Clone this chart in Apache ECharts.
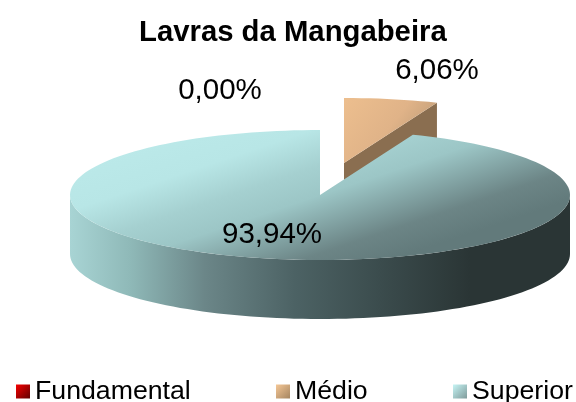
<!DOCTYPE html>
<html><head><meta charset="utf-8">
<style>html,body{margin:0;padding:0;background:#fff}#c{width:576px;height:402px}</style>
<script src="https://cdn.jsdelivr.net/npm/echarts@6/dist/echarts.min.js"></script>
</head><body><div id="c"></div>
<script>
const categories = ['Fundamental', 'Médio', 'Superior'];
const shares = [0.00, 6.06, 93.94];
const chartTitle = 'Lavras da Mangabeira';

const FONT = '"Liberation Sans", Arial, sans-serif';
const G = echarts.graphic.LinearGradient;
const lin = (x0, y0, x1, y1, stops) => new G(x0, y0, x1, y1,
  stops.map(([offset, color]) => ({offset, color})), true);
const icon = (a, b) => new G(0, 0, 1, 1, [{offset: 0, color: a}, {offset: 1, color: b}]);

const pie = {cx: 320, cy: 195, rx: 250, ry: 65, depth: 59};
const explode = [[0, 0], [24, -32], [0, 0]];
const labelAt = [[220, 91], [437, 71], [272, 235]];
const legendLeft = [16, 276, 453];
const iconColors = [
  icon('#f60000', '#600000'),
  icon('#f5c796', '#a58560'),
  icon('#c6f5f5', '#7f9a9a')
];
const topFill = [
  lin(150, 130, 400, 330, [[0, '#ff0000'], [1, '#700000']]),
  lin(350, 95, 440, 165, [[0, '#ecbe8e'], [0.45, '#e0b388'], [1, '#a88c6c']]),
  lin(150, 140, 210, 320, [[0, '#bbe9e9'], [0.22, '#b8e6e6'], [0.41, '#a5d0d0'], [0.56, '#9cc6c6'], [0.85, '#6c8586'], [1, '#627a7b']])
];
const sideFill = lin(70, 0, 570, 0, [
  [0, '#a8d4d4'], [0.12, '#8fb9b8'], [0.27, '#6b8688'], [0.45, '#4c6264'],
  [0.62, '#3b4c4d'], [0.8, '#2a3535'], [1, '#2a3535']
]);
const cutFill = '#8a6e50';

function pt(cx, cy, deg) {
  const r = deg * Math.PI / 180;
  return [cx + pie.rx * Math.sin(r), cy - pie.ry * Math.cos(r)];
}
function arc(cx, cy, from, to) {
  const out = [];
  const n = Math.max(2, Math.ceil(Math.abs(to - from) / 2));
  for (let i = 0; i <= n; i++) out.push(pt(cx, cy, from + (to - from) * i / n));
  return out;
}
function fmt(v) { return v.toFixed(2).replace('.', ',') + '%'; }

const total = shares.reduce((a, b) => a + b, 0);
const starts = shares.map((_, i) => shares.slice(0, i).reduce((a, b) => a + b, 0) / total * 360);

function renderSlice(idx) {
  return function (params, api) {
    const value = api.value(0);
    const a0 = starts[idx], a1 = a0 + value / total * 360;
    const cx = pie.cx + explode[idx][0], cy = pie.cy + explode[idx][1];
    const children = [];
    if (value > 0) {
      if (a1 < 90) {
        const e = pt(cx, cy, a1), d = pie.depth;
        children.push({type: 'polygon', shape: {points: [[cx, cy], e, [e[0], e[1] + d], [cx, cy + d]]},
          style: {fill: cutFill}});
      }
      const s = Math.max(a0, 90), t = Math.min(a1, 270);
      if (t > s) {
        const upper = arc(cx, cy, s, t);
        const lower = arc(cx, cy + pie.depth, t, s);
        children.push({type: 'polygon', shape: {points: upper.concat(lower)}, style: {fill: sideFill}});
      }
      children.push({type: 'polygon', shape: {points: [[cx, cy]].concat(arc(cx, cy, a0, a1))},
        style: {fill: topFill[idx]}});
    }
    children.push({type: 'text', z2: 10, style: {
      text: fmt(value), x: labelAt[idx][0], y: labelAt[idx][1], align: 'center', verticalAlign: 'middle',
      font: '29.5px ' + FONT, fill: '#000'
    }});
    return {type: 'group', children};
  };
}

const chart = echarts.init(document.getElementById('c'), null, {renderer: 'canvas'});
chart.setOption({
  animation: false,
  backgroundColor: '#fff',
  title: {text: chartTitle, left: 134, top: 13,
    textStyle: {fontFamily: FONT, fontWeight: 'bold', fontSize: 29.3, color: '#000'}},
  legend: categories.map((name, i) => ({
    data: [name], left: legendLeft[i], top: 378, orient: 'horizontal', padding: 0,
    itemWidth: 14, itemHeight: 14, itemGap: 0, selectedMode: false, icon: 'rect',
    textStyle: {fontFamily: FONT, fontSize: 26.7, color: '#000', padding: [0, 0, 0, 0]}
  })),
  series: categories.map((name, i) => ({
    type: 'custom', name, coordinateSystem: 'none', silent: true,
    itemStyle: {color: iconColors[i]},
    data: [[shares[i]]],
    renderItem: renderSlice(i)
  }))
});
</script></body></html>
